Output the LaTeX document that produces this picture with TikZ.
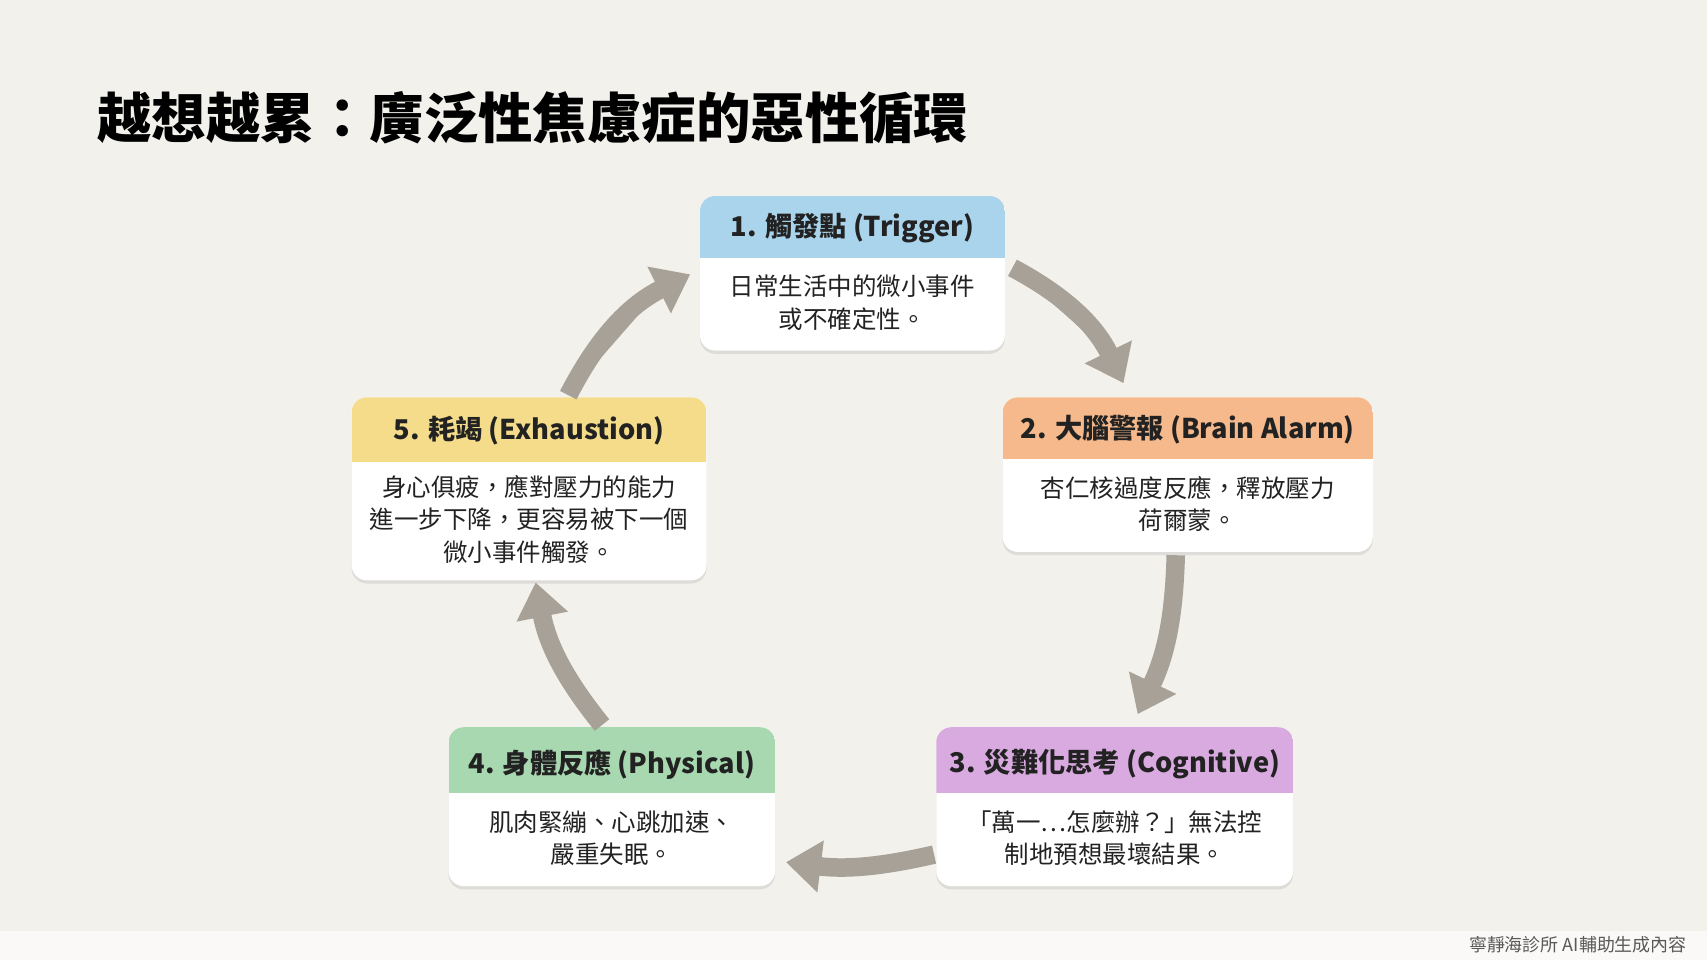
\documentclass[tikz,border=0pt]{standalone}
\usepackage{fontspec}
\setmainfont{Noto Sans CJK TC}
\usetikzlibrary{arrows.meta,shadows}
\definecolor{bg}{HTML}{F2F1EC}
\definecolor{hb}{HTML}{A9D4EC}
\definecolor{ho}{HTML}{F6B98C}
\definecolor{hp}{HTML}{D9AAE0}
\definecolor{hg}{HTML}{A8D8B0}
\definecolor{hy}{HTML}{F4DC8A}
\definecolor{arr}{HTML}{A8A197}
\definecolor{txt}{HTML}{222222}
\begin{document}
\begin{tikzpicture}[x=1pt,y=-1pt,
  card/.style={draw=none,fill=white,rounded corners=14pt,drop shadow={opacity=0.18,shadow xshift=0pt,shadow yshift=-3pt}},
  head/.style={font=\fontsize{25}{28}\selectfont\bfseries,text=txt},
  body/.style={font=\fontsize{22.5}{30}\selectfont,text=txt,align=center},
  cyc/.style={draw=arr,line width=17pt,-{Triangle[width=46pt,length=32pt]},fill=arr}]
\useasboundingbox (0,0) rectangle (1568,882);
\fill[bg] (0,0) rectangle (1568,882);
\fill[white!60!bg] (0,855) rectangle (1568,882);
\node[anchor=west,font=\fontsize{50}{56}\selectfont\bfseries,text=black] (title) at (86,108) {越想越累：廣泛性焦慮症的惡性循環};
\node[anchor=east,font=\fontsize{16.5}{18}\selectfont,text=black!65] (foot) at (1553,868) {寧靜海診所 AI輔助生成內容};
\newcommand\cardbox[6]{%
  \path[card] (#1,#2) rectangle (#3,#4);
  \begin{scope}
  \clip[rounded corners=14pt] (#1,#2) rectangle (#3,#4);
  \fill[#5] (#1,#2) rectangle (#3,#2+#6);
  \end{scope}}
\cardbox{643}{180}{923}{322}{hb}{57}
\cardbox{921}{365}{1261}{507}{ho}{57}
\cardbox{860}{668}{1188}{814}{hp}{60}
\cardbox{412}{668}{712}{814}{hg}{60}
\cardbox{323}{365}{649}{533}{hy}{59}
\node[head] (h1) at (783,210) {1. 觸發點 (Trigger)};
\node[body] (b1) at (783,278) {日常生活中的微小事件\\或不確定性。};
\node[head] (h2) at (1091,395) {2. 大腦警報 (Brain Alarm)};
\node[body] (b2) at (1091,463) {杏仁核過度反應，釋放壓力\\荷爾蒙。};
\node[head] (h3) at (1024,702) {3. 災難化思考 (Cognitive)};
\node[body] (b3) at (1024,770) {「萬一…怎麼辦？」無法控\\制地預想最壞結果。};
\node[head] (h4) at (562,702) {4. 身體反應 (Physical)};
\node[body] (b4) at (562,770) {肌肉緊繃、心跳加速、\\嚴重失眠。};
\node[head] (h5) at (486,396) {5. 耗竭 (Exhaustion)};
\node[body] (b5) at (486,477) {身心俱疲，應對壓力的能力\\進一步下降，更容易被下一個\\微小事件觸發。};
\coordinate (a1s) at (930,246); \coordinate (a1e) at (1032,352);
\coordinate (a2s) at (1080,510); \coordinate (a2e) at (1045,656);
\coordinate (a3s) at (858,785); \coordinate (a3e) at (722,792);
\coordinate (a4s) at (553,666); \coordinate (a4e) at (492,535);
\coordinate (a5s) at (522,363); \coordinate (a5e) at (634,252);
\draw[cyc] (a1s) to[bend left=18] (a1e);
\draw[cyc] (a2s) to[bend left=12] (a2e);
\draw[cyc] (a3s) to[bend left=10] (a3e);
\draw[cyc] (a4s) to[bend left=14] (a4e);
\draw[cyc] (a5s) to[bend left=18] (a5e);
\end{tikzpicture}
\end{document}
